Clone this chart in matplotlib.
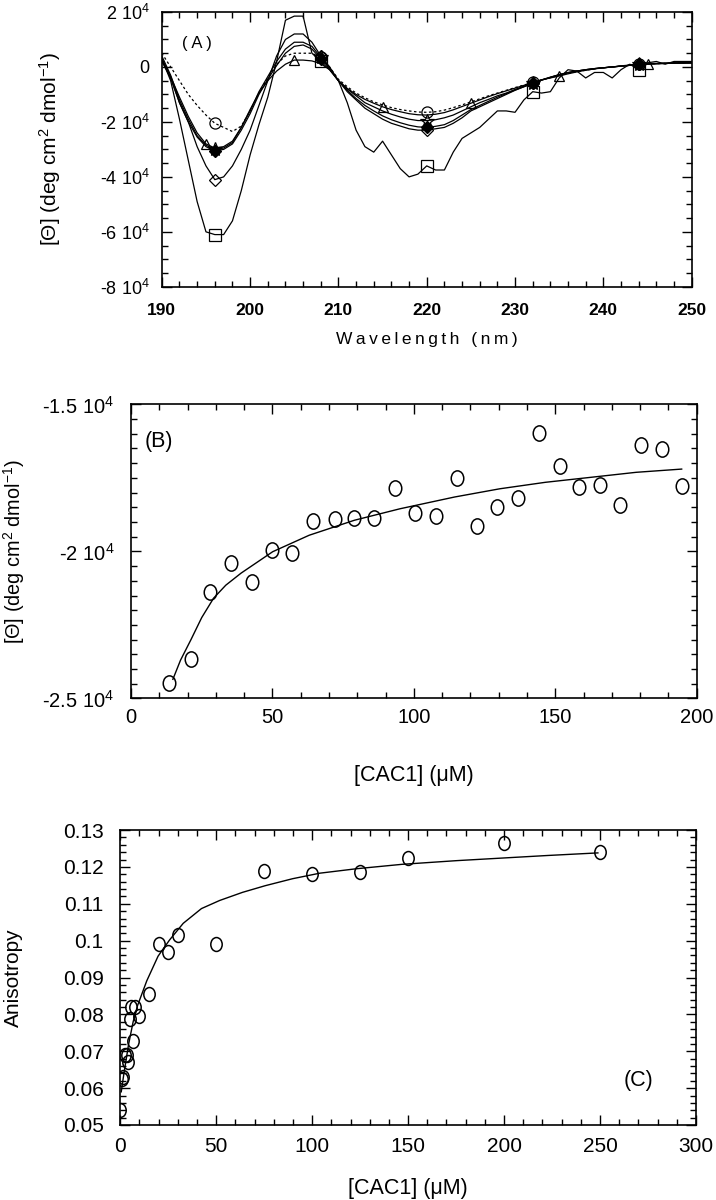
import numpy as np
import matplotlib.pyplot as plt
from matplotlib.ticker import MultipleLocator, FuncFormatter
from matplotlib.path import Path
from matplotlib.transforms import Affine2D

plt.rcParams['font.family'] = ['Liberation Sans', 'DejaVu Sans']
plt.rcParams['mathtext.fontset'] = 'custom'
plt.rcParams['mathtext.rm'] = 'Liberation Sans'
plt.rcParams['mathtext.it'] = 'Liberation Sans:italic'
plt.rcParams['mathtext.bf'] = 'Liberation Sans:bold'

# ---- (A) CD spectra, values in units of 10^4 deg cm2 dmol-1, 190..250 nm step 1
wavelength = np.arange(190, 251)
theta_square = [0.3, -0.5, -1.9, -3.4, -4.9, -6.0, -6.1, -6.1, -5.6, -4.5,
                -3.2, -2.1, -1.1, 0.2, 1.7, 1.85, 1.85, 0.5, 0.2, -0.1,
                -0.5, -1.3, -2.3, -2.9, -3.1, -2.7, -3.2, -3.7, -4.0, -3.9,
                -3.6, -3.75, -3.75, -3.1, -2.6, -2.4, -2.2, -1.9, -1.6, -1.6,
                -1.65, -1.2, -0.9, -0.95, -0.9, -0.4, -0.1, -0.15, -0.4, -0.2,
                -0.2, -0.4, -0.1, 0.1, -0.1, 0.15, 0.2, 0.1, 0.2, 0.2,
                0.2]
theta_diamond = [0.3, -0.4, -1.3, -2.0, -2.9, -3.6, -4.1, -4.0, -3.6, -3.0,
                 -2.3, -1.4, -0.5, 0.4, 1.0, 1.2, 1.2, 0.9, 0.4, 0.0,
                 -0.5, -0.9, -1.2, -1.5, -1.7, -1.9, -2.05, -2.15, -2.25, -2.3,
                 -2.3, -2.25, -2.2, -2.05, -1.85, -1.6, -1.45, -1.3, -1.15, -1.0,
                 -0.85, -0.72, -0.6, -0.48, -0.38, -0.28, -0.2, -0.15, -0.1, -0.06,
                 -0.03, 0.0, 0.04, 0.07, 0.1, 0.12, 0.13, 0.14, 0.15, 0.15,
                 0.15]
theta_star = [0.4, -0.3, -1.2, -1.9, -2.5, -2.85, -3.0, -2.95, -2.75, -2.2,
              -1.6, -0.9, -0.35, 0.2, 0.65, 0.9, 0.9, 0.75, 0.35, -0.05,
              -0.5, -0.8, -1.05, -1.3, -1.45, -1.6, -1.72, -1.82, -1.9, -1.95,
              -1.95, -1.92, -1.85, -1.75, -1.6, -1.45, -1.3, -1.18, -1.05, -0.95,
              -0.82, -0.7, -0.58, -0.47, -0.37, -0.28, -0.21, -0.15, -0.1, -0.06,
              -0.03, 0.0, 0.03, 0.06, 0.09, 0.11, 0.12, 0.13, 0.14, 0.14,
              0.15]
theta_fdiamond = [0.2, -0.4, -1.3, -2.0, -2.55, -2.9, -3.05, -3.0, -2.8, -2.3,
                  -1.7, -1.0, -0.45, 0.05, 0.5, 0.75, 0.8, 0.65, 0.3, -0.05,
                  -0.5, -0.85, -1.15, -1.4, -1.6, -1.78, -1.92, -2.03, -2.12, -2.18,
                  -2.2, -2.16, -2.1, -1.95, -1.75, -1.55, -1.4, -1.25, -1.1, -0.97,
                  -0.84, -0.72, -0.6, -0.48, -0.38, -0.29, -0.21, -0.15, -0.1, -0.06,
                  -0.03, 0.0, 0.03, 0.06, 0.09, 0.11, 0.12, 0.13, 0.14, 0.15,
                  0.15]
theta_triangle = [0.3, -0.35, -1.1, -1.8, -2.4, -2.8, -2.95, -2.9, -2.7, -2.2,
                  -1.55, -0.95, -0.5, -0.15, 0.1, 0.25, 0.25, 0.22, 0.12, -0.1,
                  -0.5, -0.78, -1.0, -1.18, -1.32, -1.45, -1.55, -1.63, -1.7, -1.74,
                  -1.75, -1.72, -1.66, -1.56, -1.44, -1.32, -1.2, -1.08, -0.97, -0.87,
                  -0.77, -0.67, -0.57, -0.47, -0.4, -0.33, -0.25, -0.18, -0.12, -0.07,
                  -0.03, 0.0, 0.03, 0.06, 0.08, 0.1, 0.12, 0.13, 0.14, 0.15,
                  0.15]
theta_circle = [0.5, 0.0, -0.5, -1.0, -1.4, -1.75, -2.05, -2.2, -2.35, -2.15,
                -1.6, -0.95, -0.4, 0.1, 0.4, 0.5, 0.5, 0.5, 0.35, 0.0,
                -0.45, -0.72, -0.95, -1.12, -1.27, -1.38, -1.48, -1.55, -1.6, -1.64,
                -1.65, -1.63, -1.57, -1.48, -1.38, -1.27, -1.16, -1.05, -0.95, -0.85,
                -0.75, -0.66, -0.56, -0.47, -0.39, -0.31, -0.24, -0.17, -0.12, -0.07,
                -0.03, 0.0, 0.03, 0.06, 0.09, 0.11, 0.12, 0.13, 0.14, 0.15,
                0.17]

# ---- (B) CD titration at fixed wavelength
conc_b = [13.5, 21.2, 28.0, 35.3, 42.7, 50.0, 57.0, 64.3, 72.0, 78.9, 85.9, 93.3, 100.4,
          107.8, 115.2, 122.4, 129.5, 136.7, 144.4, 151.6, 158.4, 165.9, 173.0, 180.2,
          187.6, 194.7]
theta_b = [-24480, -23650, -21390, -20380, -21030, -19960, -20070, -18980, -18900, -18860,
           -18850, -17830, -18680, -18780, -17510, -19120, -18500, -18190, -15960, -17100,
           -17820, -17740, -18410, -16390, -16530, -17770]
fit_b_x = [14.8, 17.5, 21.2, 25.0, 29.2, 33.5, 38.9, 50.1, 63.0, 79.0, 95.1, 114.4, 130.4,
           146.5, 162.6, 178.6, 194.7]
fit_b_y = [-24350, -23700, -23000, -22250, -21590, -21150, -20740, -20010, -19450, -18940,
           -18550, -18150, -17870, -17650, -17480, -17310, -17200]

# ---- (C) fluorescence anisotropy titration
conc_c = [0, 0.8, 1.5, 2.5, 3.5, 4, 5, 5.5, 6.5, 7.5, 10, 15, 20, 25, 30, 50, 75, 100,
          125, 150, 200, 250]
aniso = [0.054, 0.0625, 0.063, 0.069, 0.069, 0.067, 0.0787, 0.082, 0.0727, 0.082, 0.0795,
         0.0855, 0.099, 0.097, 0.1015, 0.099, 0.119, 0.118, 0.1185, 0.1225, 0.1265, 0.124]
fit_c_x = [0.5, 1.9, 4.3, 6.7, 9.0, 13.8, 19.7, 25.7, 32.8, 42.3, 51.8, 63.7, 75.5, 89.8,
           104, 123, 146.8, 175.3, 199, 222.8, 248.9]
fit_c_y = [0.059, 0.064, 0.0718, 0.078, 0.0824, 0.0891, 0.0958, 0.1002, 0.1047, 0.1087,
           0.1109, 0.1131, 0.1149, 0.1168, 0.1183, 0.1195, 0.1207, 0.1217, 0.1224, 0.1231,
           0.1238]

oval = Path.unit_circle().transformed(Affine2D().scale(0.82, 1.0))
ylab = '[Θ] (deg cm$^2$ dmol$^{-1}$)'
xlab = '[CAC1] (\u03bcM)'


def sci(v, pos):
    if abs(v) < 1e-6:
        return '0'
    return f'{v / 1e4:g} $10^{{4}}$'


def aniso_fmt(v, pos):
    s = f'{v:.2f}'
    return '0.1' if s == '0.10' else s


def style(ax, xpad, ypad):
    ax.tick_params(which='both', direction='in', top=True, right=True, width=1)
    ax.tick_params(which='major', length=7)
    ax.tick_params(which='minor', length=4)
    ax.tick_params(axis='x', pad=xpad)
    ax.tick_params(axis='y', pad=ypad)
    for s in ax.spines.values():
        s.set_linewidth(1.2)


def place_labels(ax, xl, yl):
    ax.xaxis.set_label_coords(0.5, xl)
    ax.xaxis.label.set_va('center')
    ax.yaxis.set_label_coords(yl, 0.5)
    ax.yaxis.label.set_va('center')


fig = plt.figure(figsize=(7.16, 12), dpi=100)

# (A)
ax1 = fig.add_axes([0.226, 0.761, 0.740, 0.229])
kw = dict(color='black', lw=0.9, mfc='none', mec='black', mew=0.9)
ax1.plot(wavelength, np.array(theta_square) * 1e4, marker='s', ms=9, markevery=(6, 12), **kw)
ax1.plot(wavelength, np.array(theta_diamond) * 1e4, marker='D', ms=6, markevery=(6, 12), **kw)
ax1.plot(wavelength, np.array(theta_star) * 1e4, marker='*', ms=10, markevery=(6, 12), **kw)
ax1.plot(wavelength, np.array(theta_fdiamond) * 1e4, color='black', lw=0.9, marker='D', ms=6,
         mfc='black', mec='black', markevery=(6, 12))
ax1.plot(wavelength, np.array(theta_triangle) * 1e4, marker='^', ms=7, markevery=(5, 10), **kw)
ax1.plot(wavelength, np.array(theta_circle) * 1e4, ls=(0, (2, 2)), marker='o', ms=8,
         markevery=(6, 12), **kw)
ax1.set_xlim(190, 250)
ax1.set_ylim(-8e4, 2e4)
ax1.xaxis.set_major_locator(MultipleLocator(10))
ax1.xaxis.set_minor_locator(MultipleLocator(2))
ax1.yaxis.set_major_locator(MultipleLocator(2e4))
ax1.yaxis.set_minor_locator(MultipleLocator(5e3))
ax1.yaxis.set_major_formatter(FuncFormatter(sci))
style(ax1, 12, 9)
for t in ax1.get_xticklabels():
    t.set_fontweight('bold')
    t.set_fontsize(12.5)
for t in ax1.get_yticklabels():
    t.set_fontsize(13)
ax1.set_xlabel('\u2009'.join('Wavelength (nm)'), fontsize=12.5)
ax1.set_ylabel(ylab, fontsize=15)
place_labels(ax1, -0.193, -0.211)
ax1.text(0.066, 0.885, '( A )', transform=ax1.transAxes, fontsize=12, ha='center', va='center')

# (B)
ax2 = fig.add_axes([0.183, 0.418, 0.790, 0.245])
ax2.plot(fit_b_x, fit_b_y, color='black', lw=1.0)
ax2.plot(conc_b, theta_b, ls='none', marker=oval, ms=11, mfc='none', mec='black', mew=1.1)
ax2.set_xlim(0, 200)
ax2.set_ylim(-2.5e4, -1.5e4)
ax2.xaxis.set_major_locator(MultipleLocator(50))
ax2.xaxis.set_minor_locator(MultipleLocator(10))
ax2.yaxis.set_major_locator(MultipleLocator(5e3))
ax2.yaxis.set_minor_locator(MultipleLocator(500))
ax2.yaxis.set_major_formatter(FuncFormatter(sci))
style(ax2, 7, 12)
for t in ax2.get_xticklabels() + ax2.get_yticklabels():
    t.set_fontsize(14.5)
ax2.set_xlabel(xlab, fontsize=15.5)
ax2.set_ylabel(ylab, fontsize=14.3)
place_labels(ax2, -0.262, -0.206)
ax2.text(0.05, 0.875, '(B)', transform=ax2.transAxes, fontsize=15.5,
         ha='center', va='center')

# (C)
ax3 = fig.add_axes([0.168, 0.0625, 0.804, 0.2458])
ax3.plot(fit_c_x, fit_c_y, color='black', lw=1.0)
ax3.plot(conc_c, aniso, ls='none', marker=oval, ms=10, mfc='none', mec='black', mew=1.1)
ax3.set_xlim(0, 300)
ax3.set_ylim(0.05, 0.13)
ax3.xaxis.set_major_locator(MultipleLocator(50))
ax3.xaxis.set_minor_locator(MultipleLocator(10))
ax3.yaxis.set_major_locator(MultipleLocator(0.01))
ax3.yaxis.set_minor_locator(MultipleLocator(0.002))
ax3.yaxis.set_major_formatter(FuncFormatter(aniso_fmt))
style(ax3, 9, 12)
for t in ax3.get_xticklabels() + ax3.get_yticklabels():
    t.set_fontsize(15)
ax3.set_xlabel(xlab, fontsize=15.5)
ax3.set_ylabel('Anisotropy', fontsize=15)
place_labels(ax3, -0.214, -0.186)
ax3.text(0.9, 0.15, '(C)', transform=ax3.transAxes, fontsize=15.5,
         ha='center', va='center')

fig.savefig('out.png', dpi=100)
